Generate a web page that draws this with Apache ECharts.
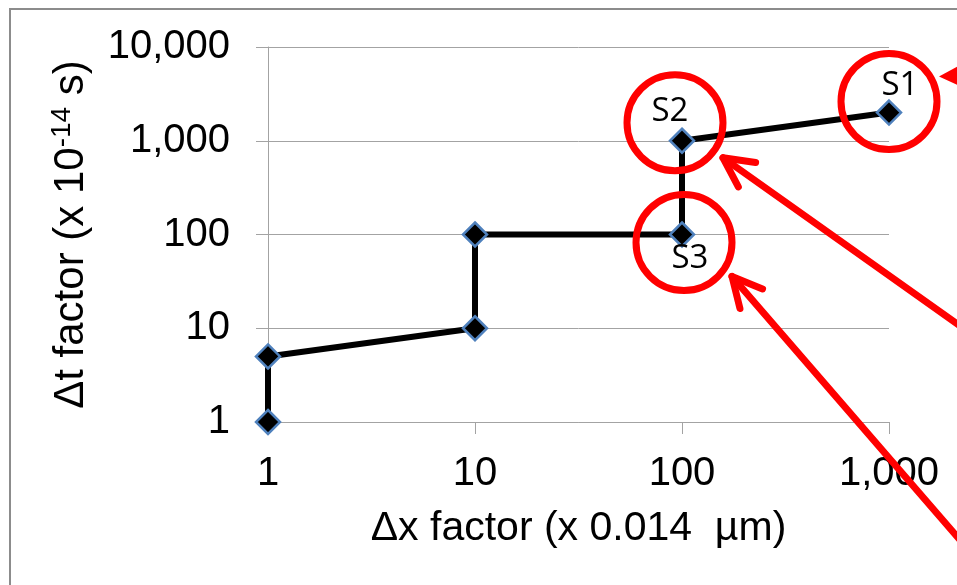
<!DOCTYPE html>
<html>
<head>
<meta charset="utf-8">
<script src="https://cdn.jsdelivr.net/npm/echarts@6/dist/echarts.min.js"></script>
<style>
  html, body { margin: 0; padding: 0; background: #fff; }
  #chart { width: 957px; height: 585px; }
</style>
</head>
<body>
<div id="chart"></div>
<script>
// step path through the (Δx, Δt) factors
const dxFactor = [1, 1, 10, 10, 100, 100, 1000]
const dtFactor = [1, 5, 10, 100, 100, 1000, 2000]
const stateNames = ['', '', '', '', 'S3', 'S2', 'S1']
const xTicks = [1, 10, 100, 1000]
const yTicks = [1, 10, 100, 1000, 10000]

const gray = '#a3a3a3'
const red = '#ff0000'
const font = 'Liberation Sans, Arial, sans-serif'

// where each state label sits relative to its point
const labelOffsets = { S1: [11, -27], S2: [-12, -29], S3: [8, 24] }

function fmt(v) {
  return Number(v).toLocaleString('en-US')
}

const points = dxFactor.map((x, i) => {
  const name = stateNames[i]
  const item = { value: [x, dtFactor[i]] }
  if (name) {
    item.label = {
      show: true,
      position: 'inside',
      offset: labelOffsets[name],
      formatter: name,
      color: '#000',
      fontFamily: 'Open Sans, sans-serif',
      fontSize: 33,
    }
  }
  return item
})

const chart = echarts.init(document.getElementById('chart'))

chart.setOption({
  animation: false,
  textStyle: { fontFamily: font },
  grid: { left: 268, right: 68, top: 47, bottom: 163 },
  xAxis: {
    type: 'log',
    logBase: 10,
    min: xTicks[0],
    max: xTicks[xTicks.length - 1],
    name: 'Δx factor (x 0.014  µm)',
    nameLocation: 'middle',
    nameGap: 86,
    nameTextStyle: { color: '#000', fontSize: 41 },
    axisLine: { lineStyle: { color: gray, width: 1 } },
    axisTick: { length: 12, lineStyle: { color: gray } },
    splitLine: { show: false },
    axisLabel: { color: '#000', fontSize: 40, margin: 32, formatter: fmt },
  },
  yAxis: {
    type: 'log',
    logBase: 10,
    min: yTicks[0],
    max: yTicks[yTicks.length - 1],
    name: '{a|Δt factor (x 10}{b|-14}{a| s)}',
    nameLocation: 'middle',
    nameGap: 174,
    nameTextStyle: {
      rich: {
        a: { color: '#000', fontSize: 42, fontFamily: font, lineHeight: 46 },
        b: { color: '#000', fontSize: 28, fontFamily: font, verticalAlign: 'top', lineHeight: 46 },
      },
    },
    axisLine: { show: true, lineStyle: { color: gray, width: 1 } },
    axisTick: { show: true, length: 12, lineStyle: { color: gray } },
    splitLine: { show: true, lineStyle: { color: gray, width: 1 } },
    axisLabel: { color: '#000', fontSize: 40, margin: 38, formatter: fmt },
  },
  series: [
    {
      type: 'line',
      data: points,
      symbol: 'diamond',
      symbolSize: 24,
      lineStyle: { color: '#000', width: 6 },
      itemStyle: { color: '#000', borderColor: '#4f81bd', borderWidth: 2.5 },
      z: 3,
    },
  ],
})

// red call-outs: circles around the three states, arrows pointing at them
function arrow(tip, dir) {
  const len = Math.sqrt(dir[0] * dir[0] + dir[1] * dir[1])
  const ux = dir[0] / len
  const uy = dir[1] / len
  const tail = [tip[0] + ux * 500, tip[1] + uy * 500]
  const head = 33
  const spread = 0.47
  const cos = Math.cos(spread)
  const sin = Math.sin(spread)
  const p1 = [tip[0] + head * (ux * cos - uy * sin), tip[1] + head * (uy * cos + ux * sin)]
  const p2 = [tip[0] + head * (ux * cos + uy * sin), tip[1] + head * (uy * cos - ux * sin)]
  const style = { stroke: red, lineWidth: 7, lineCap: 'round', lineJoin: 'round', fill: null }
  return [
    { type: 'polyline', shape: { points: [tip, tail] }, style },
    { type: 'polyline', shape: { points: [p1, tip, p2] }, style },
  ]
}

const circleOffsets = { S1: [0, -11], S2: [-7, -18], S3: [2, 8] }
const graphics = [
  {
    type: 'rect',
    shape: { x: 10, y: 9, width: 1200, height: 1200 },
    style: { fill: null, stroke: '#8c8c8c', lineWidth: 2 },
    silent: true,
  },
]
const centers = {}
dxFactor.forEach((x, i) => {
  const name = stateNames[i]
  if (!name) return
  const p = chart.convertToPixel({ seriesIndex: 0 }, [x, dtFactor[i]])
  const c = [p[0] + circleOffsets[name][0], p[1] + circleOffsets[name][1]]
  centers[name] = c
  graphics.push({
    type: 'circle',
    shape: { cx: c[0], cy: c[1], r: 48 },
    style: { fill: null, stroke: red, lineWidth: 7 },
  })
})

const s1 = centers.S1
const s2 = centers.S2
const s3 = centers.S3
graphics.push(...arrow([s2[0] + 48, s2[1] + 35], [234, 166]))
graphics.push(...arrow([s3[0] + 48, s3[1] + 34], [225, 260]))
graphics.push({
  type: 'polygon',
  shape: { points: [[s1[0] + 50, s1[1] - 25], [s1[0] + 70, s1[1] - 36], [s1[0] + 70, s1[1] - 16]] },
  style: { fill: red },
})

chart.setOption({ graphic: graphics.map((g) => Object.assign({ z: 10 }, g)) })
</script>
</body>
</html>
